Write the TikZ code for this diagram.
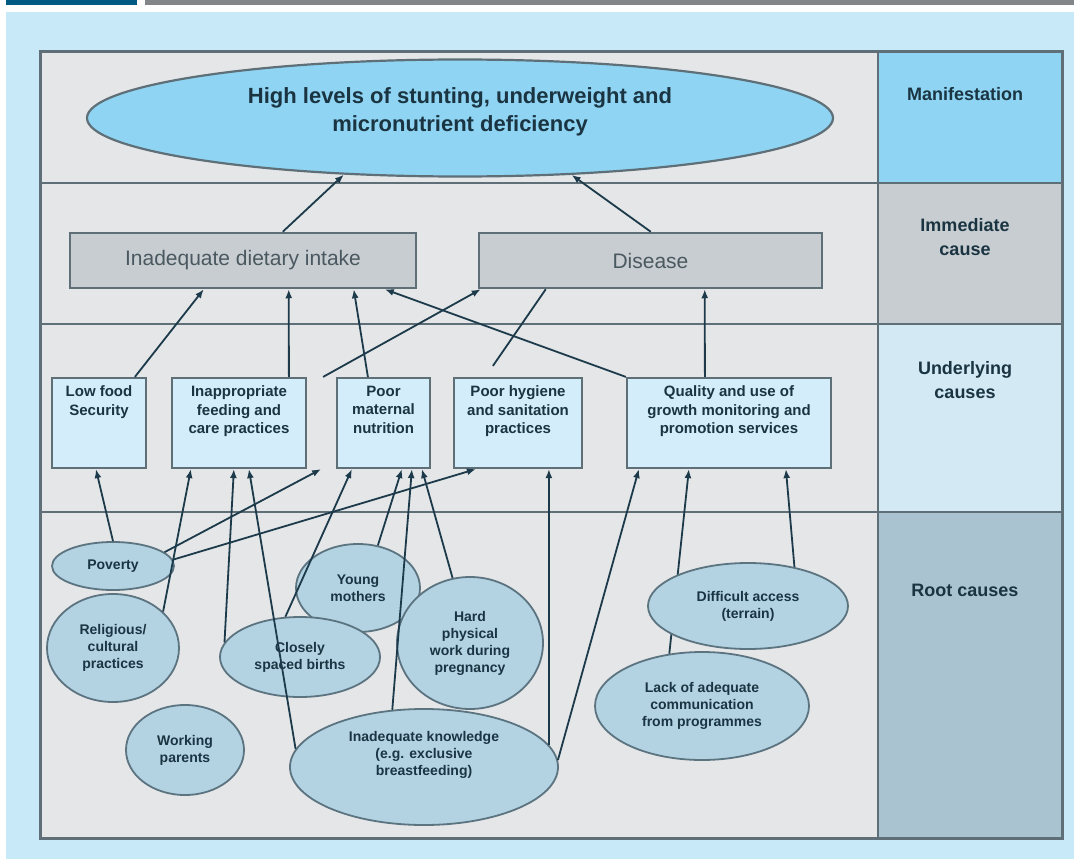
\documentclass[tikz,border=0pt]{standalone}
\usepackage{fontspec}
\setmainfont{Liberation Sans}
\usetikzlibrary{shapes,arrows,arrows.meta,positioning,calc}

\definecolor{pagebg}{HTML}{C7E9F8}
\definecolor{barblue}{HTML}{005B82}
\definecolor{bargrey}{HTML}{838689}
\definecolor{panelgrey}{HTML}{E4E6E8}
\definecolor{manifill}{HTML}{8FD5F3}
\definecolor{immfill}{HTML}{C8CDD1}
\definecolor{underfill}{HTML}{D3EAF5}
\definecolor{rootband}{HTML}{A9C3D0}
\definecolor{framegrey}{HTML}{5E6F78}
\definecolor{causefill}{HTML}{D3EEFA}
\definecolor{ovalfill}{HTML}{B3D3E3}
\definecolor{ovaledge}{HTML}{5C7380}
\definecolor{linkcol}{HTML}{1D3A4A}
\definecolor{darktext}{HTML}{1A3442}
\definecolor{immtext}{HTML}{4A5860}

\begin{document}
\begin{tikzpicture}[x=1pt, y=-1pt]
    \tikzstyle{rowline} = [draw=framegrey, line width=2.5pt]
    \tikzstyle{immbox} = [rectangle, draw=framegrey, line width=2.5pt, fill=immfill, minimum height=55pt, text=immtext, font=\fontsize{21}{25}\selectfont]
    \tikzstyle{causebox} = [rectangle, draw=framegrey, line width=2.2pt, fill=causefill, minimum height=90pt]
    \tikzstyle{boxtext} = [align=center, inner sep=0pt, text=darktext, font=\bfseries\fontsize{15}{18.5}\selectfont]
    \tikzstyle{rootcause} = [ellipse, draw=ovaledge, line width=1.8pt, fill=ovalfill, inner sep=0pt, align=center, text=darktext, font=\bfseries\fontsize{14}{17}\selectfont]
    \tikzstyle{rowlabel} = [align=center, text=darktext, font=\bfseries\fontsize{18}{24}\selectfont]
    \tikzstyle{plainline} = [draw=linkcol, line width=1.8pt]
    \tikzstyle{connector} = [plainline, -{Latex[length=9pt,width=7pt]}]

    \useasboundingbox (0,0) rectangle (1074,859);

    % page and frame
    \fill[pagebg] (6,12) rectangle (1074,859);
    \fill[barblue] (6,0) rectangle (137,5);
    \fill[bargrey] (145,0) rectangle (1074,5);
    \fill[panelgrey] (40,52) rectangle (878,838);
    \fill[manifill] (878,52) rectangle (1062,183);
    \fill[immfill] (878,183) rectangle (1062,324);
    \fill[underfill] (878,324) rectangle (1062,512);
    \fill[rootband] (878,512) rectangle (1062,838);
    \draw[rowline] (40,183) -- (1062,183);
    \draw[rowline] (40,324) -- (1062,324);
    \draw[rowline] (40,512) -- (1062,512);
    \draw[rowline] (878,52) -- (878,838);
    \draw[framegrey, line width=3pt] (40,52) rectangle (1062,838);

    % row labels
    \node[rowlabel] (lblmanif) at (965,94) {Manifestation};
    \node[rowlabel] (lblimm) at (965,237) {Immediate\\cause};
    \node[rowlabel] (lblunder) at (965,380) {Underlying\\causes};
    \node[rowlabel] (lblroot) at (965,590) {Root causes};

    % manifestation
    \node[ellipse, draw=framegrey, line width=2.2pt, fill=manifill, minimum width=746pt, minimum height=117pt] (manifest) at (460,118) {};
    \node[align=center, text=darktext, font=\bfseries\fontsize{22}{28}\selectfont] (manifesttxt) at (460,112) {High levels of stunting, underweight and\\micronutrient deficiency};

    % immediate causes
    \node[immbox, minimum width=346pt] (intake) at (243,260.5) {Inadequate dietary intake};
    \node[immbox, minimum width=343pt] (disease) at (650.5,260.5) {Disease};

    % underlying causes
    \node[causebox, minimum width=94pt] (lowfood) at (99,423) {};
    \node[boxtext, below=9pt of lowfood.north] (lowfoodtxt) {Low food\\Security};
    \node[causebox, minimum width=134pt] (feeding) at (239,423) {};
    \node[boxtext, below=9pt of feeding.north] (feedingtxt) {Inappropriate\\feeding and\\care practices};
    \node[causebox, minimum width=93pt] (maternal) at (383.5,423) {};
    \node[boxtext, below=9pt of maternal.north] (maternaltxt) {Poor\\maternal\\nutrition};
    \node[causebox, minimum width=128pt] (hygiene) at (518,423) {};
    \node[boxtext, below=9pt of hygiene.north] (hygienetxt) {Poor hygiene\\and sanitation\\practices};
    \node[causebox, minimum width=204pt] (quality) at (729,423) {};
    \node[boxtext, below=9pt of quality.north] (qualitytxt) {Quality and use of\\growth monitoring and\\promotion services};

    % root causes
    \node[rootcause, minimum width=132pt, minimum height=108pt] (religious) at (113,648) {Religious/\\cultural\\practices};
    \node[rootcause, minimum width=122pt, minimum height=48pt] (poverty) at (113,566) {Poverty};
    \node[rootcause, minimum width=118pt, minimum height=90pt] (working) at (185,750) {Working\\parents};
    \node[rootcause, minimum width=124pt, minimum height=88pt] (young) at (358,588) {Young\\mothers};
    \node[rootcause, minimum width=160pt, minimum height=80pt] (closely) at (300,657) {Closely\\spaced births};
    \node[rootcause, minimum width=146pt, minimum height=132pt] (hardwork) at (470,643) {Hard\\physical\\work during\\pregnancy};
    \node[rootcause, minimum width=268pt, minimum height=116pt] (knowledge) at (424,767) {Inadequate knowledge\\(e.g. exclusive\\breastfeeding)\\[10pt]};
    \node[rootcause, minimum width=214pt, minimum height=108pt] (lackcomm) at (702,706) {Lack of adequate\\communication\\from programmes};
    \path [connector] (lackcomm.122) -- ($(quality.south west)+(63,0)$);
    \node[rootcause, minimum width=200pt, minimum height=86pt] (difficult) at (748,606) {Difficult access\\(terrain)};

    % root causes -> underlying causes
    \path [connector] (poverty.north) -- ($(lowfood.south west)+(45,0)$);
    \path [connector] (religious.36) -- ($(feeding.south west)+(20,0)$);
    \path [connector] (poverty.15) -- ($(feeding.south east)+(14,0)$);
    \path [connector] (poverty.6) -- ($(hygiene.south west)+(23,0)$);
    \path [connector] (closely.169) -- ($(feeding.south west)+(63,0)$);
    \path [connector] (knowledge.172) -- ($(feeding.south west)+(78,0)$);
    \path [connector] (closely.110) -- ($(maternal.south west)+(16,0)$);
    \path [connector] (young.65) -- ($(maternal.south west)+(66,0)$);
    \path [connector] (knowledge.119) -- ($(maternal.south west)+(76,0)$);
    \path [connector] (hardwork.105) -- ($(maternal.south west)+(86,0)$);
    \path [connector] (knowledge.10) -- ($(hygiene.south west)+(96,0)$);
    \path [connector] (knowledge.3) -- ($(quality.south west)+(13,0)$);
    \path [connector] (difficult.40) -- ($(quality.south west)+(160,0)$);

    % underlying causes -> immediate causes
    \path [connector] ($(lowfood.north west)+(84,0)$) -- ($(intake.south west)+(135,0)$);
    \path [connector] ($(feeding.north west)+(118,0)$) -- ($(intake.south west)+(220,0)$);
    \path [connector] ($(maternal.north west)+(32,0)$) -- ($(intake.south west)+(285,0)$);
    \path [connector] (quality.north west) -- ($(intake.south west)+(316,0)$);
    \path [connector] ($(feeding.north east)+(16,0)$) -- ($(disease.south west)+(3,0)$);
    \path [plainline] ($(hygiene.north west)+(40,-11)$) -- ($(disease.south west)+(68,0)$);
    \path [connector] ($(quality.north west)+(79,0)$) -- ($(disease.south west)+(227,0)$);

    % immediate causes -> manifestation
    \path [connector] ($(intake.north west)+(214,0)$) -- (manifest.206);
    \path [connector] ($(disease.north west)+(173,0)$) -- (manifest.333);
\end{tikzpicture}
\end{document}
